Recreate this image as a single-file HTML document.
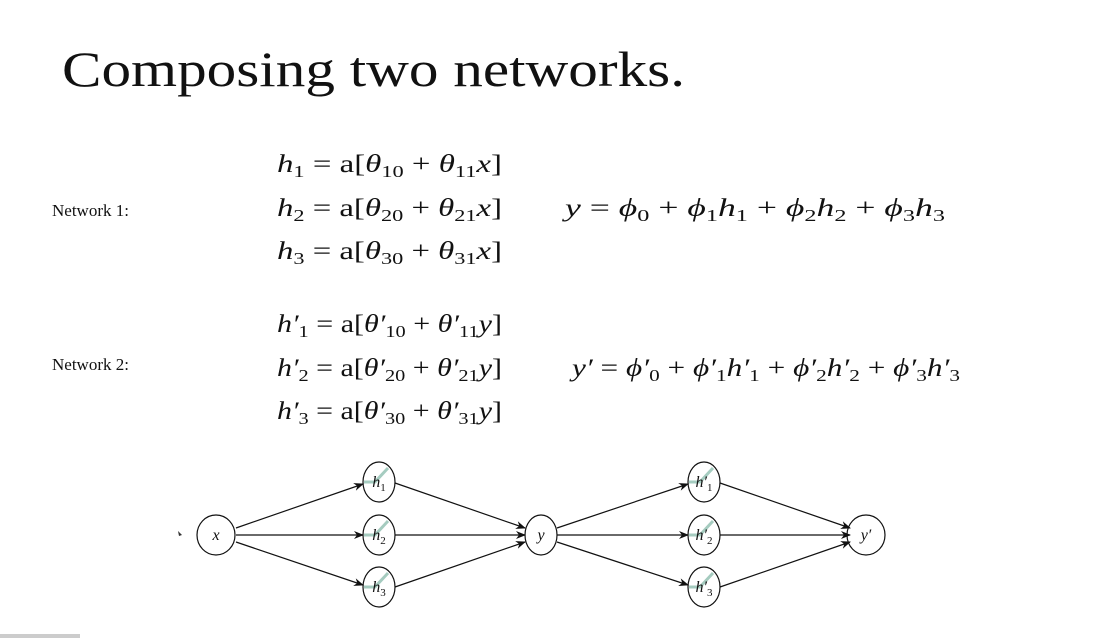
<!DOCTYPE html>
<html><head><meta charset="utf-8"><style>
html,body{margin:0;padding:0;background:#fff;width:1094px;height:638px;overflow:hidden}
svg{display:block}
text{font-family:"Liberation Serif",serif;fill:#111}
.m{font-size:25px}
.i{font-style:italic}
</style></head><body>
<svg width="1094" height="638" viewBox="0 0 1094 638">
<defs><marker id="a" markerWidth="10" markerHeight="8" refX="9" refY="4" orient="auto" markerUnits="userSpaceOnUse"><path d="M0,0 L10,4 L0,8 L3,4 Z" fill="#111"/></marker></defs>
<text x="62" y="86" font-size="50" textLength="623" lengthAdjust="spacingAndGlyphs">Composing two networks.</text>
<text x="52" y="216" font-size="17">Network 1:</text>
<text x="52" y="370" font-size="17">Network 2:</text>

<g class="m">
<text x="277" y="172" textLength="225" lengthAdjust="spacingAndGlyphs"><tspan class="i">h</tspan><tspan font-size="17" dy="5">1</tspan><tspan dy="-5"> = a[</tspan><tspan class="i">θ</tspan><tspan font-size="17" dy="5">10</tspan><tspan dy="-5"> + </tspan><tspan class="i">θ</tspan><tspan font-size="17" dy="5">11</tspan><tspan dy="-5" class="i">x</tspan><tspan>]</tspan></text>
<text x="277" y="216" textLength="225" lengthAdjust="spacingAndGlyphs"><tspan class="i">h</tspan><tspan font-size="17" dy="5">2</tspan><tspan dy="-5"> = a[</tspan><tspan class="i">θ</tspan><tspan font-size="17" dy="5">20</tspan><tspan dy="-5"> + </tspan><tspan class="i">θ</tspan><tspan font-size="17" dy="5">21</tspan><tspan dy="-5" class="i">x</tspan><tspan>]</tspan></text>
<text x="277" y="259" textLength="225" lengthAdjust="spacingAndGlyphs"><tspan class="i">h</tspan><tspan font-size="17" dy="5">3</tspan><tspan dy="-5"> = a[</tspan><tspan class="i">θ</tspan><tspan font-size="17" dy="5">30</tspan><tspan dy="-5"> + </tspan><tspan class="i">θ</tspan><tspan font-size="17" dy="5">31</tspan><tspan dy="-5" class="i">x</tspan><tspan>]</tspan></text>
<text x="565" y="216" textLength="380" lengthAdjust="spacingAndGlyphs"><tspan class="i">y</tspan> = <tspan class="i">ϕ</tspan><tspan font-size="17" dy="5">0</tspan><tspan dy="-5"> + </tspan><tspan class="i">ϕ</tspan><tspan font-size="17" dy="5">1</tspan><tspan dy="-5" class="i">h</tspan><tspan font-size="17" dy="5">1</tspan><tspan dy="-5"> + </tspan><tspan class="i">ϕ</tspan><tspan font-size="17" dy="5">2</tspan><tspan dy="-5" class="i">h</tspan><tspan font-size="17" dy="5">2</tspan><tspan dy="-5"> + </tspan><tspan class="i">ϕ</tspan><tspan font-size="17" dy="5">3</tspan><tspan dy="-5" class="i">h</tspan><tspan font-size="17" dy="5">3</tspan></text>

<text x="277" y="332" textLength="225" lengthAdjust="spacingAndGlyphs"><tspan class="i">h′</tspan><tspan font-size="17" dy="5">1</tspan><tspan dy="-5"> = a[</tspan><tspan class="i">θ′</tspan><tspan font-size="17" dy="5">10</tspan><tspan dy="-5"> + </tspan><tspan class="i">θ′</tspan><tspan font-size="17" dy="5">11</tspan><tspan dy="-5" class="i">y</tspan><tspan>]</tspan></text>
<text x="277" y="376" textLength="225" lengthAdjust="spacingAndGlyphs"><tspan class="i">h′</tspan><tspan font-size="17" dy="5">2</tspan><tspan dy="-5"> = a[</tspan><tspan class="i">θ′</tspan><tspan font-size="17" dy="5">20</tspan><tspan dy="-5"> + </tspan><tspan class="i">θ′</tspan><tspan font-size="17" dy="5">21</tspan><tspan dy="-5" class="i">y</tspan><tspan>]</tspan></text>
<text x="277" y="419" textLength="225" lengthAdjust="spacingAndGlyphs"><tspan class="i">h′</tspan><tspan font-size="17" dy="5">3</tspan><tspan dy="-5"> = a[</tspan><tspan class="i">θ′</tspan><tspan font-size="17" dy="5">30</tspan><tspan dy="-5"> + </tspan><tspan class="i">θ′</tspan><tspan font-size="17" dy="5">31</tspan><tspan dy="-5" class="i">y</tspan><tspan>]</tspan></text>
<text x="572" y="376" textLength="388" lengthAdjust="spacingAndGlyphs"><tspan class="i">y′</tspan> = <tspan class="i">ϕ′</tspan><tspan font-size="17" dy="5">0</tspan><tspan dy="-5"> + </tspan><tspan class="i">ϕ′</tspan><tspan font-size="17" dy="5">1</tspan><tspan dy="-5" class="i">h′</tspan><tspan font-size="17" dy="5">1</tspan><tspan dy="-5"> + </tspan><tspan class="i">ϕ′</tspan><tspan font-size="17" dy="5">2</tspan><tspan dy="-5" class="i">h′</tspan><tspan font-size="17" dy="5">2</tspan><tspan dy="-5"> + </tspan><tspan class="i">ϕ′</tspan><tspan font-size="17" dy="5">3</tspan><tspan dy="-5" class="i">h′</tspan><tspan font-size="17" dy="5">3</tspan></text>
</g>

<g stroke="#111" stroke-width="1.2" fill="none" marker-end="url(#a)">
<line x1="236" y1="528" x2="363" y2="484"/>
<line x1="236" y1="535" x2="363" y2="535"/>
<line x1="236" y1="542" x2="363" y2="585"/>
<line x1="395" y1="483" x2="525" y2="528"/>
<line x1="395" y1="535" x2="525" y2="535"/>
<line x1="395" y1="587" x2="525" y2="542"/>
<line x1="557" y1="528" x2="688" y2="484"/>
<line x1="557" y1="535" x2="688" y2="535"/>
<line x1="557" y1="542" x2="688" y2="585"/>
<line x1="720" y1="483" x2="850" y2="528"/>
<line x1="720" y1="535" x2="850" y2="535"/>
<line x1="720" y1="587" x2="850" y2="542"/>
</g>
<g stroke="#8fbfb0" stroke-width="3" fill="none" opacity="0.8">
<path d="M364,482 H375 L388,468"/><path d="M364,535 H375 L388,521"/><path d="M364,587 H375 L388,573"/>
<path d="M689,482 H700 L713,468"/><path d="M689,535 H700 L713,521"/><path d="M689,587 H700 L713,573"/>
</g>
<g stroke="#111" stroke-width="1.2" fill="none">
<ellipse cx="216" cy="535" rx="19" ry="20"/>
<ellipse cx="379" cy="482" rx="16" ry="20"/>
<ellipse cx="379" cy="535" rx="16" ry="20"/>
<ellipse cx="379" cy="587" rx="16" ry="20"/>
<ellipse cx="541" cy="535" rx="16" ry="20"/>
<ellipse cx="704" cy="482" rx="16" ry="20"/>
<ellipse cx="704" cy="535" rx="16" ry="20"/>
<ellipse cx="704" cy="587" rx="16" ry="20"/>
<ellipse cx="866" cy="535" rx="19" ry="20"/>
</g>
<g font-size="16" class="i" text-anchor="middle" font-style="italic">
<text x="216" y="540" font-style="italic">x</text>
<text x="379" y="487" font-style="italic">h<tspan font-size="11" dy="4" font-style="normal">1</tspan></text>
<text x="379" y="540" font-style="italic">h<tspan font-size="11" dy="4" font-style="normal">2</tspan></text>
<text x="379" y="592" font-style="italic">h<tspan font-size="11" dy="4" font-style="normal">3</tspan></text>
<text x="541" y="540" font-style="italic">y</text>
<text x="704" y="487" font-style="italic">h′<tspan font-size="11" dy="4" font-style="normal">1</tspan></text>
<text x="704" y="540" font-style="italic">h′<tspan font-size="11" dy="4" font-style="normal">2</tspan></text>
<text x="704" y="592" font-style="italic">h′<tspan font-size="11" dy="4" font-style="normal">3</tspan></text>
<text x="866" y="540" font-style="italic">y′</text>
</g>
<path d="M178,531 l4,4 l-3,1 z" fill="#333"/>
<rect x="0" y="634" width="80" height="4" fill="#ccc"/>
</svg>
</body></html>
